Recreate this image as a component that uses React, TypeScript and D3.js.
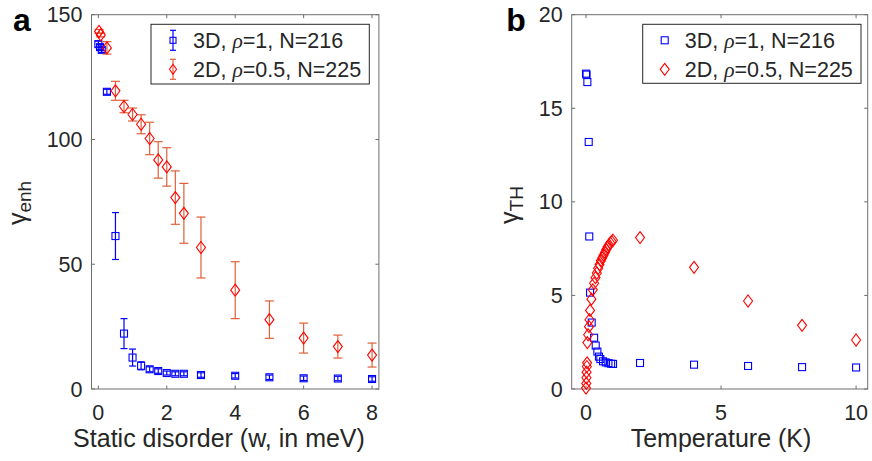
import React from "react";
import * as d3 from "d3";

// Panel a: static disorder (meV) vs gamma_enh
const w3D = [0, 0.05, 0.1, 0.25, 0.5, 0.75, 1.0, 1.25, 1.5, 1.75, 2.0, 2.25, 2.5, 3, 4, 5, 6, 7, 8];
const g3D = [138.2, 137.0, 135.9, 119.1, 61.3, 22.2, 12.6, 9.3, 7.9, 7.2, 6.4, 6.1, 6.1, 5.6, 5.3, 4.7, 4.3, 4.2, 4.0];
const e3D = [1.2, 1.0, 1.0, 1.0, 9.4, 6.0, 3.4, 1.6, 1.0, 0.9, 0.8, 0.8, 0.8, 0.9, 0.9, 0.9, 0.9, 0.9, 0.9];

const w2D = [0.02, 0.07, 0.25, 0.5, 0.75, 1.0, 1.25, 1.5, 1.75, 2.0, 2.25, 2.5, 3, 4, 5, 6, 7, 8];
const g2D = [143.3, 141.9, 136.7, 119.5, 113.2, 110.0, 106.1, 100.4, 91.8, 89.0, 76.7, 70.4, 56.7, 39.6, 27.8, 20.4, 17.0, 13.6];
const e2D = [0.8, 0.8, 2.5, 3.8, 2.5, 2.6, 3.8, 6.5, 7.3, 7.7, 10.7, 12.0, 12.2, 11.4, 7.5, 6.0, 4.6, 4.8];

// Panel b: temperature (K) vs gamma_TH
const T3D = [0.0, 0.02, 0.05, 0.1, 0.12, 0.15, 0.21, 0.3, 0.36, 0.42, 0.48, 0.53, 0.63, 0.73, 0.83, 0.93, 1.0, 2, 4, 6, 8, 10];
const h3D = [16.85, 16.8, 16.4, 13.2, 8.15, 5.15, 3.55, 2.74, 2.32, 2.0, 1.73, 1.6, 1.48, 1.42, 1.38, 1.35, 1.34, 1.39, 1.3, 1.23, 1.17, 1.15];

const T2D = [0.0, 0.01, 0.015, 0.02, 0.03, 0.04, 0.05, 0.08, 0.11, 0.13, 0.15, 0.2, 0.25, 0.3, 0.35, 0.4, 0.45, 0.5, 0.55, 0.6, 0.65, 0.7, 0.75, 0.8, 0.85, 0.9, 0.95, 1.0, 2, 4, 6, 8, 10];
const h2D = [0.05, 0.3, 0.6, 0.9, 1.2, 1.4, 2.48, 2.9, 3.33, 3.7, 4.2, 4.8, 5.3, 5.65, 5.95, 6.2, 6.45, 6.65, 6.85, 7.0, 7.15, 7.3, 7.45, 7.6, 7.7, 7.8, 7.88, 7.95, 8.09, 6.5, 4.7, 3.4, 2.62];

const xTicksA = [0, 2, 4, 6, 8];
const yTicksA = [0, 50, 100, 150];
const xTicksB = [0, 5, 10];
const yTicksB = [0, 5, 10, 15, 20];

const legendLabels = ["3D, ", "2D, "];
const legendRest = ["=1, N=216", "=0.5, N=225"];

const FONT = "'Liberation Sans', Arial, Helvetica, sans-serif";
const AX = "#262626";
const BLUE = "#0000FF";
const RED = "#FF0000";
const ERR_RED = "#DE6038";
const TICK_FS = 21.5;
const LABEL_FS = 25;
const LEG_FS = 21.5;

function Square({ x, y, s = 7 }: { x: number; y: number; s?: number }) {
  return <rect x={x - s / 2} y={y - s / 2} width={s} height={s} fill="none" stroke={BLUE} strokeWidth={1.1} />;
}
function Diamond({ x, y, w = 9, h = 12 }: { x: number; y: number; w?: number; h?: number }) {
  return (
    <path
      d={`M${x},${y - h / 2}L${x + w / 2},${y}L${x},${y + h / 2}L${x - w / 2},${y}Z`}
      fill="none"
      stroke={RED}
      strokeWidth={1.1}
    />
  );
}
function ErrBar({ x, y0, y1, color, cap }: { x: number; y0: number; y1: number; color: string; cap: number }) {
  return (
    <g stroke={color} strokeWidth={1.2} fill="none">
      <line x1={x} x2={x} y1={y0} y2={y1} />
      <line x1={x - cap / 2} x2={x + cap / 2} y1={y0} y2={y0} />
      <line x1={x - cap / 2} x2={x + cap / 2} y1={y1} y2={y1} />
    </g>
  );
}

function Axes({
  x,
  y,
  xt,
  yt,
}: {
  x: d3.ScaleLinear<number, number>;
  y: d3.ScaleLinear<number, number>;
  xt: number[];
  yt: number[];
}) {
  const [x0, x1] = x.range();
  const [y0, y1] = y.range();
  const tl = 3.5;
  return (
    <g>
      <rect x={x0} y={y1} width={x1 - x0} height={y0 - y1} fill="none" stroke="#6e6e6e" strokeWidth={1} />
      {xt.map((t) => (
        <g key={"x" + t}>
          <line x1={x(t)} x2={x(t)} y1={y0} y2={y0 - tl} stroke="#6e6e6e" />
          <line x1={x(t)} x2={x(t)} y1={y1} y2={y1 + tl} stroke="#6e6e6e" />
          <text x={x(t)} y={y0 + 31} textAnchor="middle" fontSize={TICK_FS} fill={AX} fontFamily={FONT}>
            {t}
          </text>
        </g>
      ))}
      {yt.map((t) => (
        <g key={"y" + t}>
          <line x1={x0} x2={x0 + tl} y1={y(t)} y2={y(t)} stroke="#6e6e6e" />
          <line x1={x1} x2={x1 - tl} y1={y(t)} y2={y(t)} stroke="#6e6e6e" />
          <text x={x0 - 9} y={y(t) + 7.5} textAnchor="end" fontSize={TICK_FS} fill={AX} fontFamily={FONT}>
            {t}
          </text>
        </g>
      ))}
    </g>
  );
}

function Legend({ x0, y0, w, h, withErr }: { x0: number; y0: number; w: number; h: number; withErr: boolean }) {
  const mx = x0 + 22;
  const tx = x0 + 42;
  const rows = [y0 + 16, y0 + 45];
  return (
    <g fontFamily={FONT} fontSize={LEG_FS} fill={AX}>
      <rect x={x0} y={y0} width={w} height={h} fill="#fff" stroke={AX} strokeWidth={1} />
      {withErr && <ErrBar x={mx} y0={rows[0] - 10} y1={rows[0] + 10} color={BLUE} cap={6} />}
      {withErr && <ErrBar x={mx} y0={rows[1] - 10} y1={rows[1] + 10} color={ERR_RED} cap={6} />}
      {withErr ? <Square x={mx} y={rows[0]} s={6} /> : <Square x={mx} y={rows[0]} s={7} />}
      {withErr ? <Diamond x={mx} y={rows[1]} w={7} h={10} /> : <Diamond x={mx} y={rows[1]} w={9} h={12} />}
      {rows.map((ry, i) => (
        <text key={i} x={tx} y={ry + 7.5}>
          {legendLabels[i]}
          <tspan fontStyle="italic" fontFamily="'Liberation Serif', 'Times New Roman', serif">ρ</tspan>
          {legendRest[i]}
        </text>
      ))}
    </g>
  );
}

export default function App() {
  const xa = d3.scaleLinear().domain([-0.2, 8.2]).range([91.5, 378.9]);
  const ya = d3.scaleLinear().domain([0, 150]).range([389, 14.7]);
  const xb = d3.scaleLinear().domain([-0.53, 10.43]).range([571.7, 867.7]);
  const yb = d3.scaleLinear().domain([0, 20]).range([389, 14.7]);

  return (
    <svg
      width={872}
      height={461}
      style={{ position: "absolute", left: 0, top: 0, background: "#fff" }}
      fontFamily={FONT}
    >
      <rect width={872} height={461} fill="#fff" />
      {/* Panel a */}
      <Axes x={xa} y={ya} xt={xTicksA} yt={yTicksA} />
      {w3D.map((w, i) => (
        <ErrBar key={"eb" + i} x={xa(w)} y0={ya(g3D[i] + e3D[i])} y1={ya(g3D[i] - e3D[i])} color={BLUE} cap={7} />
      ))}
      {w3D.map((w, i) => (
        <Square key={"sb" + i} x={xa(w)} y={ya(g3D[i])} s={7} />
      ))}
      {w2D.map((w, i) => (
        <ErrBar key={"er" + i} x={xa(w)} y0={ya(g2D[i] + e2D[i])} y1={ya(g2D[i] - e2D[i])} color={ERR_RED} cap={9} />
      ))}
      {w2D.map((w, i) => (
        <Diamond key={"dr" + i} x={xa(w)} y={ya(g2D[i])} w={9} h={12} />
      ))}
      <Legend x0={151} y0={24.3} w={218.3} h={59.7} withErr={true} />
      <text x={22} y={31} fontSize={32} fontWeight="bold" fill="#000" fontFamily={FONT} textAnchor="middle">
        a
      </text>
      <text x={219} y={447} fontSize={LABEL_FS} fill={AX} textAnchor="middle">
        Static disorder (w, in meV)
      </text>
      <text transform="translate(26,203) rotate(-90)" fontSize={LABEL_FS} fill={AX} textAnchor="middle">
        γ<tspan fontSize={19} dy={5}>enh</tspan>
      </text>

      {/* Panel b */}
      <Axes x={xb} y={yb} xt={xTicksB} yt={yTicksB} />
      {T3D.map((t, i) => (
        <Square key={"sq" + i} x={xb(t)} y={yb(h3D[i])} s={7} />
      ))}
      {T2D.map((t, i) => (
        <Diamond key={"dm" + i} x={xb(t)} y={yb(h2D[i])} w={9} h={12} />
      ))}
      <Legend x0={642.7} y0={24.3} w={218.3} h={59} withErr={false} />
      <text x={516} y={31} fontSize={32} fontWeight="bold" fill="#000" fontFamily={FONT} textAnchor="middle">
        b
      </text>
      <text x={721} y={447} fontSize={LABEL_FS} fill={AX} textAnchor="middle">
        Temperature (K)
      </text>
      <text transform="translate(518,205) rotate(-90)" fontSize={LABEL_FS} fill={AX} textAnchor="middle">
        γ<tspan fontSize={19} dy={5}>TH</tspan>
      </text>
    </svg>
  );
}
